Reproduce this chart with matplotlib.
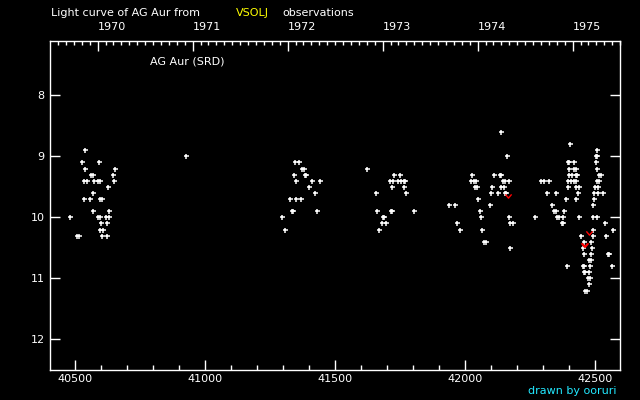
import datetime
import matplotlib
matplotlib.use("Agg")
import matplotlib.pyplot as plt
from matplotlib.path import Path
from matplotlib.ticker import MultipleLocator, FixedLocator

# visual observations, JD - 2400000 and visual magnitude
jd_obs = [
    40480, 40507, 40516, 40526, 40534, 40535, 40538, 40538, 40544, 40557,
    40562, 40569, 40568, 40568, 40571, 40589, 40597, 40590, 40589, 40597,
    40597, 40608, 40595, 40602, 40599, 40602, 40621, 40618, 40628, 40624,
    40626, 40630, 40645, 40649, 40653,
    40926,
    41295, 41307, 41326, 41333, 41339, 41342, 41345, 41349, 41349, 41361,
    41368, 41372, 41380, 41385, 41389, 41399, 41411, 41422, 41430, 41442,
    41622,
    41657, 41661, 41668, 41680, 41685, 41689, 41695, 41711, 41715, 41719,
    41718, 41721, 41726, 41741, 41749, 41752, 41764, 41768, 41765, 41772,
    41803,
    41938, 41961, 41968, 41980, 42022, 42026, 42034, 42038, 42042, 42046,
    42050, 42057, 42061, 42065, 42073, 42081, 42096, 42100, 42104, 42111,
    42127, 42134, 42138, 42138, 42138, 42146, 42150, 42153, 42155, 42159,
    42161, 42169, 42169, 42172, 42172, 42184,
    42268, 42291, 42303, 42315, 42322, 42334, 42342, 42350, 42350, 42355,
    42360, 42371, 42375, 42377, 42380, 42388, 42392, 42396, 42396, 42397,
    42401, 42399, 42399, 42403, 42406, 42411, 42417, 42418, 42418, 42426,
    42426, 42426, 42426, 42426, 42432, 42433, 42437, 42437, 42445, 42453,
    42457, 42457, 42455, 42459, 42459, 42463, 42461, 42469, 42473, 42476,
    42476, 42476, 42480, 42480, 42484, 42484, 42484, 42488, 42492, 42492,
    42492, 42492, 42496, 42496, 42499, 42503, 42507, 42505, 42509, 42507,
    42507, 42507, 42511, 42511, 42515, 42515, 42523, 42530, 42538, 42542,
    42551, 42555, 42565, 42569,
]
mag_obs = [
    10.0, 10.3, 10.3, 9.1, 9.7, 9.4, 8.9, 9.2, 9.4, 9.7,
    9.3, 9.3, 9.6, 9.9, 9.4, 9.4, 9.4, 9.1, 10.0, 10.0,
    10.2, 10.2, 9.7, 9.7, 10.1, 10.3, 10.3, 10.0, 10.0, 10.1,
    9.5, 9.9, 9.3, 9.4, 9.2,
    9.0,
    10.0, 10.2, 9.7, 9.9, 9.9, 9.3, 9.1, 9.4, 9.7, 9.1,
    9.7, 9.2, 9.2, 9.3, 9.3, 9.5, 9.4, 9.6, 9.9, 9.4,
    9.2,
    9.6, 9.9, 10.2, 10.1, 10.0, 10.0, 10.1, 9.4, 9.9, 9.9,
    9.5, 9.4, 9.3, 9.4, 9.3, 9.4, 9.4, 9.4, 9.5, 9.6,
    9.9,
    9.8, 9.8, 10.1, 10.2, 9.4, 9.3, 9.4, 9.5, 9.4, 9.5,
    9.7, 9.9, 10.0, 10.2, 10.4, 10.4, 9.8, 9.6, 9.5, 9.3,
    9.6, 9.3, 9.3, 9.5, 8.6, 9.4, 9.5, 9.4, 9.6, 9.6,
    9.0, 9.4, 10.0, 10.1, 10.5, 10.1,
    10.0, 9.4, 9.4, 9.6, 9.4, 9.8, 9.9, 9.9, 9.6, 10.0,
    10.0, 10.1, 10.1, 10.0, 9.9, 9.7, 10.8, 9.4, 9.5, 9.1,
    9.1, 9.2, 9.3, 8.8, 9.4, 9.3, 9.4, 9.1, 9.2, 9.2,
    9.3, 9.4, 9.5, 9.7, 9.3, 9.6, 9.5, 10.0, 10.3, 10.5,
    10.4, 10.6, 10.8, 10.8, 10.9, 10.9, 11.2, 11.2, 11.0, 10.7,
    10.9, 11.1, 10.8, 11.0, 10.4, 10.6, 10.7, 10.5, 9.8, 10.0,
    10.2, 10.3, 9.6, 9.7, 9.5, 9.1, 8.9, 9.0, 9.0, 9.2,
    9.4, 10.0, 9.5, 9.6, 9.3, 9.4, 9.3, 9.6, 10.1, 10.3,
    10.6, 10.6, 10.8, 10.2,
]

# observations drawn in red
jd_red = [42165, 42459, 42463, 42476]
mag_red = [9.67, 10.47, 10.47, 10.28]

year_list = [1970, 1971, 1972, 1973, 1974, 1975]


def jd_of(d):
    # JD - 2400000 at 0h UT
    return (d - datetime.date(1858, 11, 17)).days + 0.5


fig = plt.figure(figsize=(6.4, 4), dpi=100, facecolor="black")
ax = fig.add_axes([50.3 / 640, 1 - 370.3 / 400, 570 / 640, 329.6 / 400])
ax.set_facecolor("black")

ax.plot(jd_obs, mag_obs, linestyle="none", marker="+", color="white",
        markersize=3.6, markeredgewidth=1.1)
vmark = Path([(-1, 1), (0, -0.2), (1, 1)], [Path.MOVETO, Path.LINETO, Path.LINETO])
ax.plot(jd_red, mag_red, linestyle="none", marker=vmark, color="red",
        markersize=4.5, markeredgewidth=1.0, fillstyle="none")

ax.set_xlim(40404, 42597)
ax.set_ylim(12.508, 7.105)

for sp in ax.spines.values():
    sp.set_color("white")
    sp.set_linewidth(1.0)

ax.xaxis.set_major_locator(MultipleLocator(500))
ax.xaxis.set_minor_locator(MultipleLocator(100))
ax.yaxis.set_major_locator(MultipleLocator(1))
ax.tick_params(axis="both", which="both", direction="in", colors="white",
               labelsize=8, width=1.0)
ax.tick_params(axis="x", which="major", length=7.2, pad=3, top=False)
ax.tick_params(axis="x", which="minor", length=3.6, top=False)
ax.tick_params(axis="y", which="major", length=7.2, pad=4, right=True)

# calendar years on the top axis
ax2 = ax.twiny()
ax2.set_xlim(ax.get_xlim())
year_ticks = [jd_of(datetime.date(y, 1, 1)) for y in year_list]
month_ticks = []
for y in range(1969, 1976):
    for m in range(1, 13):
        t = jd_of(datetime.date(y, m, 1))
        if 40404 <= t <= 42597 and m != 1:
            month_ticks.append(t)
ax2.xaxis.set_major_locator(FixedLocator(year_ticks))
ax2.xaxis.set_minor_locator(FixedLocator(month_ticks))
ax2.set_xticklabels([str(y) for y in year_list], ha="left")
ax2.tick_params(axis="x", which="both", direction="in", colors="white",
                labelsize=8, width=1.0)
ax2.tick_params(axis="x", which="major", length=7.2, pad=6)
ax2.tick_params(axis="x", which="minor", length=2.9)
for sp in ax2.spines.values():
    sp.set_visible(False)

fig.text(50.7 / 640, 1 - 12.5 / 400, "Light curve of AG Aur from", color="white",
         fontsize=8, va="center", ha="left")
fig.text(236 / 640, 1 - 12.5 / 400, "VSOLJ", color="yellow",
         fontsize=8, va="center", ha="left")
fig.text(282 / 640, 1 - 12.5 / 400, "observations", color="white",
         fontsize=8, va="center", ha="left")
fig.text(150 / 640, 1 - 62 / 400, "AG Aur (SRD)", color="white",
         fontsize=8, va="center", ha="left")
fig.text(617 / 640, 1 - 391 / 400, "drawn by ooruri", color="#22e8ff",
         fontsize=8, va="center", ha="right")

fig.savefig("out.png", dpi=100, facecolor="black")
